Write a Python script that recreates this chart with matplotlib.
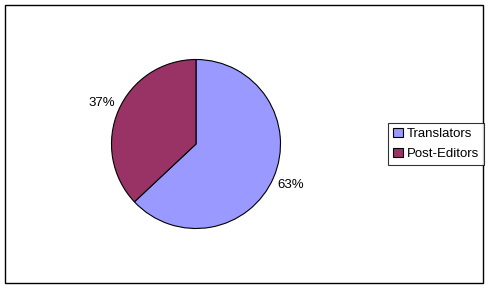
import matplotlib.pyplot as plt
from matplotlib.patches import Rectangle

labels = ["Translators", "Post-Editors"]
shares = [63, 37]
colors = ["#9999FF", "#993366"]

plt.rcParams['font.family'] = ['Liberation Sans', 'DejaVu Sans']

W, H = 489, 288
fig = plt.figure(figsize=(W / 100, H / 100), dpi=100)

# black frame round the whole chart area
fig.patches.append(Rectangle((5 / W, 5 / H), 478 / W, 278 / H, transform=fig.transFigure,
                             fill=False, edgecolor="black", linewidth=1.0))

# pie axes: centre (196, 144) px, radius ~84.5 px
cx, cy, r = 196, 144, 84.5
ax = fig.add_axes([(cx - r) / W, (H - cy - r) / H, 2 * r / W, 2 * r / H])
wedges, texts, autotexts = ax.pie(
    shares, colors=colors, startangle=90, counterclock=False,
    autopct="%d%%", pctdistance=1.22,
    wedgeprops=dict(edgecolor="black", linewidth=0.8),
    textprops=dict(fontsize=9.5, color="black"),
)
ax.set_xlim(-1, 1)
ax.set_ylim(-1, 1)
ax.set_aspect("equal")

leg = fig.legend(wedges, labels, loc="center left",
                 bbox_to_anchor=(388 / W, 1 - 144 / H),
                 fontsize=9.5, frameon=True, fancybox=False,
                 handlelength=0.7, handleheight=0.7, handletextpad=0.3,
                 borderpad=0.4, labelspacing=0.6, borderaxespad=0)
leg.get_frame().set_edgecolor("black")
leg.get_frame().set_linewidth(0.8)

fig.savefig("out.png", dpi=100)
